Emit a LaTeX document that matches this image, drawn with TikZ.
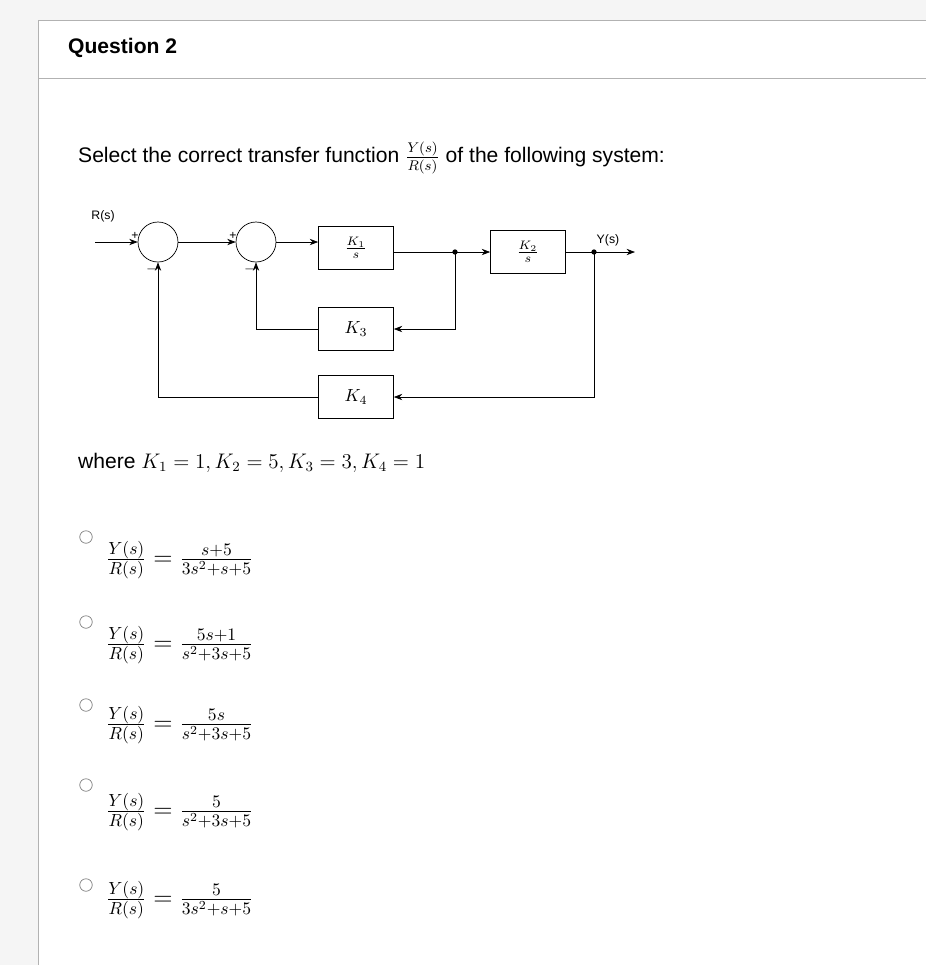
\documentclass[tikz,border=0pt]{standalone}
\usepackage{fontspec}
\setmainfont{Liberation Sans}
\usetikzlibrary{positioning,arrows.meta}
\begin{document}
\begin{tikzpicture}[x=0.02cm,y=-0.02cm,>=Stealth]
	\tikzstyle{block}=[draw=black,fill=white,minimum width=1.5cm,minimum height=0.85cm,inner sep=1pt,font=\normalsize]
	\tikzstyle{sumnode}=[draw=black,circle,fill=white,minimum size=0.8cm,inner sep=0pt]
	\tikzstyle{radio}=[draw=gray,circle,fill=white,minimum size=0.25cm,inner sep=0pt]
	\tikzstyle{answer}=[anchor=west,font=\Large]
	\useasboundingbox (0,0) rectangle (926,965);
	\fill[gray!8] (0,0) rectangle (926,965);
	\draw[gray!60,fill=white] (38,20) rectangle (926,965);
	\draw[gray!60] (38,78) -- (926,78);
	\node[anchor=west,font=\large\bfseries] (title) at (62,48) {Question 2};
	\node[anchor=west,font=\large] (ask) at (72,158) {Select the correct transfer function $\frac{Y(s)}{R(s)}$ of the following system:};
	% block diagram
	\node[font=\scriptsize] (rlabel) at (103,216) {R(s)};
	\coordinate (rin) at (95,242);
	\node[sumnode] (sum1) at (158,242) {};
	\node[sumnode] (sum2) at (256,242) {};
	\node[block] (k1) at (356,248) {$\frac{K_1}{s}$};
	\node[block] (k2) at (528,252) {$\frac{K_2}{s}$};
	\node[block] (k3) at (356,329) {$K_3$};
	\node[block] (k4) at (356,397) {$K_4$};
	\node[font=\scriptsize] (ylabel) at (608,240) {Y(s)};
	\coordinate (yout) at (635,252);
	\coordinate (b1) at (455,252);
	\coordinate (b2) at (594,252);
	\draw[->] (rin) -- (sum1);
	\draw[->] (sum1) -- (sum2);
	\draw[->] (sum2) -- (sum2 -| k1.west);
	\draw[->] (k1.east |- b1) -- (k2);
	\draw[->] (k2) -- (yout);
	\draw[->] (b1) |- (k3);
	\draw[->] (b2) |- (k4);
	\draw[->] (k3) -| (sum2);
	\draw[->] (k4) -| (sum1);
	\fill (b1) circle (1.5pt) (b2) circle (1.5pt);
	\node[font=\scriptsize,above left=-2pt and -4pt of sum1.west] {+};
	\node[font=\scriptsize,below left=-2pt and -3pt of sum1.south] {$-$};
	\node[font=\scriptsize,above left=-2pt and -4pt of sum2.west] {+};
	\node[font=\scriptsize,below left=-2pt and -3pt of sum2.south] {$-$};
	\node[anchor=west,font=\large] (where) at (72,463) {where $K_1=1, K_2=5, K_3=3, K_4=1$};
	% answers
	\node[radio] (r1) at (86,537) {};
	\node[answer] (a1) at (100,560) {$\frac{Y(s)}{R(s)}=\frac{s+5}{3s^2+s+5}$};
	\node[radio] (r2) at (86,622) {};
	\node[answer] (a2) at (100,645) {$\frac{Y(s)}{R(s)}=\frac{5s+1}{s^2+3s+5}$};
	\node[radio] (r3) at (86,705) {};
	\node[answer] (a3) at (100,725) {$\frac{Y(s)}{R(s)}=\frac{5s}{s^2+3s+5}$};
	\node[radio] (r4) at (86,785) {};
	\node[answer] (a4) at (100,812) {$\frac{Y(s)}{R(s)}=\frac{5}{s^2+3s+5}$};
	\node[radio] (r5) at (86,885) {};
	\node[answer] (a5) at (100,900) {$\frac{Y(s)}{R(s)}=\frac{5}{3s^2+s+5}$};
\end{tikzpicture}
\end{document}
